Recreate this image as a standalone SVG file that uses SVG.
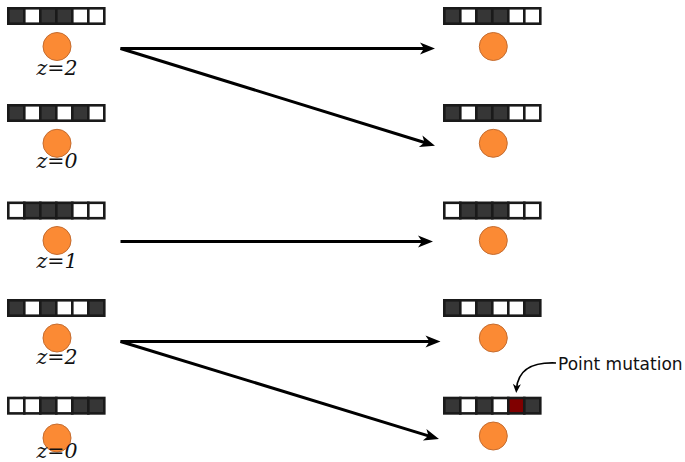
<svg xmlns="http://www.w3.org/2000/svg" width="685" height="462" viewBox="0 0 685 462">
<style>
.c{stroke:#1a1a1a;stroke-width:2.6}
.d{fill:#363636}
.w{fill:#ffffff}
.r{fill:#800000}
.o{fill:#fb8a34;stroke:#c46c30;stroke-width:1}
.z{font-family:"DejaVu Serif",serif;font-style:italic;font-size:20.5px;fill:#111;text-anchor:middle}
.a{fill:none;stroke:#000;stroke-width:3}
.m{fill:none;stroke:#000;stroke-width:1.6}
.t{font-family:"DejaVu Sans",sans-serif;font-size:17px;fill:#111}
</style>
<defs>
<marker id="ah" markerUnits="userSpaceOnUse" markerWidth="30" markerHeight="30" refX="0" refY="0" orient="auto" overflow="visible">
<path d="M5,0 L-10,-6 L-6,0 L-10,6 Z" fill="#000"/>
</marker>
<marker id="sh" markerUnits="userSpaceOnUse" markerWidth="20" markerHeight="20" refX="0" refY="0" orient="auto" overflow="visible">
<path d="M4,0 L-5,-4 L-2.5,0 L-5,4 Z" fill="#000"/>
</marker>
</defs>
<g id="connectors">
<path class="a" d="M120.5,48.5 L430,48.5" marker-end="url(#ah)"/>
<path class="a" d="M120.5,48.5 L430.2,144.3" marker-end="url(#ah)"/>
<path class="a" d="M120.5,241.5 L428,241.5" marker-end="url(#ah)"/>
<path class="a" d="M120.5,341.5 L435.5,341.5" marker-end="url(#ah)"/>
<path class="a" d="M120.5,341.5 L434.2,437.6" marker-end="url(#ah)"/>
<path class="m" d="M556,363 C531,362 518,370 516.5,389" marker-end="url(#sh)"/>
</g>
<g id="left1">
<rect class="c d" x="8.3" y="8.3" width="16" height="15.4"/><rect class="c w" x="24.3" y="8.3" width="16" height="15.4"/><rect class="c d" x="40.3" y="8.3" width="16" height="15.4"/><rect class="c d" x="56.3" y="8.3" width="16" height="15.4"/><rect class="c w" x="72.3" y="8.3" width="16" height="15.4"/><rect class="c w" x="88.3" y="8.3" width="16" height="15.4"/>
<circle class="o" cx="57" cy="46.5" r="14"/>
<text class="z" x="57" y="74.5">z=2</text>
</g>
<g id="left2">
<rect class="c d" x="8.3" y="105.3" width="16" height="15.4"/><rect class="c w" x="24.3" y="105.3" width="16" height="15.4"/><rect class="c d" x="40.3" y="105.3" width="16" height="15.4"/><rect class="c w" x="56.3" y="105.3" width="16" height="15.4"/><rect class="c d" x="72.3" y="105.3" width="16" height="15.4"/><rect class="c w" x="88.3" y="105.3" width="16" height="15.4"/>
<circle class="o" cx="57" cy="143.3" r="14"/>
<text class="z" x="57" y="168.3">z=0</text>
</g>
<g id="left3">
<rect class="c w" x="8.3" y="202.8" width="16" height="15.4"/><rect class="c d" x="24.3" y="202.8" width="16" height="15.4"/><rect class="c d" x="40.3" y="202.8" width="16" height="15.4"/><rect class="c d" x="56.3" y="202.8" width="16" height="15.4"/><rect class="c w" x="72.3" y="202.8" width="16" height="15.4"/><rect class="c w" x="88.3" y="202.8" width="16" height="15.4"/>
<circle class="o" cx="57" cy="240.5" r="14"/>
<text class="z" x="57" y="267.5">z=1</text>
</g>
<g id="left4">
<rect class="c d" x="8.3" y="300.3" width="16" height="15.4"/><rect class="c w" x="24.3" y="300.3" width="16" height="15.4"/><rect class="c d" x="40.3" y="300.3" width="16" height="15.4"/><rect class="c w" x="56.3" y="300.3" width="16" height="15.4"/><rect class="c w" x="72.3" y="300.3" width="16" height="15.4"/><rect class="c d" x="88.3" y="300.3" width="16" height="15.4"/>
<circle class="o" cx="57" cy="338" r="14"/>
<text class="z" x="57" y="364">z=2</text>
</g>
<g id="left5">
<rect class="c w" x="8.3" y="398" width="16" height="15.4"/><rect class="c w" x="24.3" y="398" width="16" height="15.4"/><rect class="c d" x="40.3" y="398" width="16" height="15.4"/><rect class="c w" x="56.3" y="398" width="16" height="15.4"/><rect class="c d" x="72.3" y="398" width="16" height="15.4"/><rect class="c d" x="88.3" y="398" width="16" height="15.4"/>
<circle class="o" cx="57" cy="438" r="14"/>
<text class="z" x="57" y="457.5">z=0</text>
</g>
<g id="right1">
<rect class="c d" x="444.3" y="8.3" width="16" height="15.4"/><rect class="c w" x="460.3" y="8.3" width="16" height="15.4"/><rect class="c d" x="476.3" y="8.3" width="16" height="15.4"/><rect class="c d" x="492.3" y="8.3" width="16" height="15.4"/><rect class="c w" x="508.3" y="8.3" width="16" height="15.4"/><rect class="c w" x="524.3" y="8.3" width="16" height="15.4"/>
<circle class="o" cx="493.3" cy="46.5" r="14"/>
</g>
<g id="right2">
<rect class="c d" x="444.3" y="105.3" width="16" height="15.4"/><rect class="c w" x="460.3" y="105.3" width="16" height="15.4"/><rect class="c d" x="476.3" y="105.3" width="16" height="15.4"/><rect class="c d" x="492.3" y="105.3" width="16" height="15.4"/><rect class="c w" x="508.3" y="105.3" width="16" height="15.4"/><rect class="c w" x="524.3" y="105.3" width="16" height="15.4"/>
<circle class="o" cx="493.3" cy="143.3" r="14"/>
</g>
<g id="right3">
<rect class="c w" x="444.3" y="202.8" width="16" height="15.4"/><rect class="c d" x="460.3" y="202.8" width="16" height="15.4"/><rect class="c d" x="476.3" y="202.8" width="16" height="15.4"/><rect class="c d" x="492.3" y="202.8" width="16" height="15.4"/><rect class="c w" x="508.3" y="202.8" width="16" height="15.4"/><rect class="c w" x="524.3" y="202.8" width="16" height="15.4"/>
<circle class="o" cx="493.3" cy="240.5" r="14"/>
</g>
<g id="right4">
<rect class="c d" x="444.3" y="300.3" width="16" height="15.4"/><rect class="c w" x="460.3" y="300.3" width="16" height="15.4"/><rect class="c d" x="476.3" y="300.3" width="16" height="15.4"/><rect class="c w" x="492.3" y="300.3" width="16" height="15.4"/><rect class="c w" x="508.3" y="300.3" width="16" height="15.4"/><rect class="c d" x="524.3" y="300.3" width="16" height="15.4"/>
<circle class="o" cx="493.3" cy="338" r="14"/>
</g>
<g id="right5">
<rect class="c d" x="444.3" y="398" width="16" height="15.4"/><rect class="c w" x="460.3" y="398" width="16" height="15.4"/><rect class="c d" x="476.3" y="398" width="16" height="15.4"/><rect class="c w" x="492.3" y="398" width="16" height="15.4"/><rect class="c r" x="508.3" y="398" width="16" height="15.4"/><rect class="c d" x="524.3" y="398" width="16" height="15.4"/>
<circle class="o" cx="493.3" cy="436" r="14"/>
</g>
<g id="label">
<text class="t" x="558" y="370">Point mutation</text>
</g>
</svg>
